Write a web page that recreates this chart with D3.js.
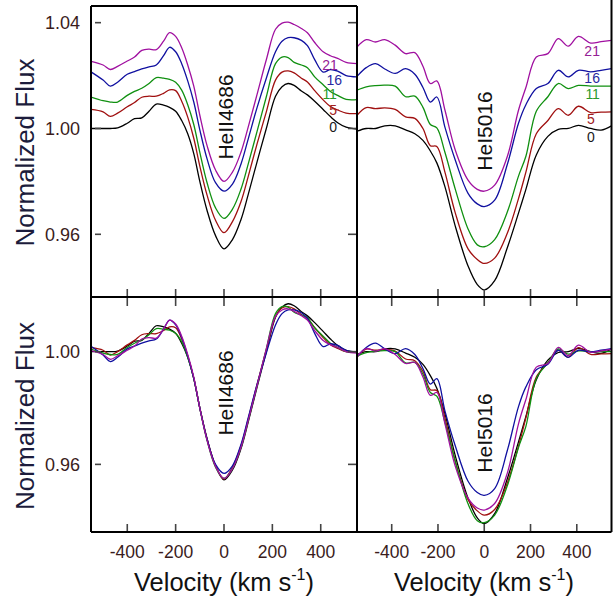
<!DOCTYPE html>
<html><head><meta charset="utf-8">
<script src="https://cdn.jsdelivr.net/npm/d3@7"></script>
<style>
html,body{margin:0;padding:0;background:#fff;}
svg{display:block;font-family:"Liberation Sans",Arial,Helvetica,sans-serif;}
</style></head>
<body><svg id="c" width="614" height="601"></svg>
<script>
// ---------------- DATA ----------------
const xTicks = [-400, -200, 0, 200, 400];
const yTicksTop = [0.96, 1.00, 1.04];
const yTicksBottom = [0.96, 1.00];
const seriesLabels = ["0", "5", "11", "16", "21"];
const lineNames = ["HeII4686", "HeI5016"];

const velHeII = [-550,-500,-470,-440,-400,-370,-340,-310,-280,-250,-225,-200,-175,-150,-125,-100,-70,-35,0,35,70,100,137,175,213,240,265,290,320,345,375,410,440,470,505,550];
const heII_0  = [1.000,1.000,1.000,1.0002,1.002,1.0037,1.004,1.0065,1.0092,1.0088,1.008,1.0065,1.003,0.998,0.9905,0.980,0.969,0.9595,0.9545,0.958,0.9655,0.975,0.9875,1.000,1.0122,1.0158,1.017,1.0163,1.0142,1.0127,1.0103,1.0072,1.0045,1.0022,1.0005,0.9998];
const heII_5  = [1.0014,1.0005,0.9988,1.000,1.0024,1.004,1.006,1.0064,1.0064,1.0075,1.0088,1.0085,1.0045,0.9985,0.9905,0.980,0.969,0.9595,0.9548,0.959,0.9665,0.976,0.9885,1.0005,1.0125,1.0155,1.016,1.0152,1.0132,1.0118,1.0085,1.005,1.0025,1.0012,1.000,0.9998];
const heII_11 = [1.0009,0.9995,0.999,0.999,1.0015,1.003,1.0042,1.006,1.0082,1.008,1.0076,1.0065,1.0035,0.998,0.9905,0.980,0.9685,0.959,0.955,0.9585,0.966,0.9755,0.988,1.001,1.0135,1.016,1.0158,1.014,1.013,1.012,1.0085,1.0055,1.003,1.0015,1.000,0.9999];
const heII_16 = [1.0019,0.9988,0.9965,0.998,1.001,1.002,1.003,1.0038,1.0045,1.008,1.0112,1.0095,1.005,0.9985,0.9905,0.980,0.969,0.960,0.9568,0.9595,0.967,0.9765,0.9885,0.9995,1.0095,1.0135,1.0148,1.0148,1.0138,1.0118,1.0065,1.0018,1.0028,1.0022,1.0005,1.000];
const heII_21 = [1.0004,0.999,0.9973,0.9985,1.0005,1.002,1.0045,1.005,1.0048,1.008,1.0112,1.0098,1.0055,0.999,0.991,0.980,0.9685,0.9593,0.955,0.9585,0.966,0.9755,0.988,1.001,1.0125,1.0148,1.0152,1.0143,1.0128,1.0112,1.0075,1.004,1.0025,1.0015,1.000,0.9995];

const velHeI = [-550,-510,-470,-430,-385,-340,-300,-265,-233,-205,-170,-125,-70,-30,0,45,100,148,180,225,275,320,363,407,460,505,550];
const heI_0  = [0.999,1.000,1.000,1.001,1.001,0.9995,0.998,0.9955,0.9915,0.987,0.978,0.963,0.948,0.941,0.939,0.9425,0.955,0.968,0.977,0.990,0.997,0.9997,1.000,1.0012,1.000,0.9994,1.001];
const heI_5  = [0.998,1.0009,1.0005,1.0008,1.0002,0.9974,0.9968,0.993,0.9865,0.9862,0.9765,0.961,0.9475,0.9435,0.942,0.944,0.9535,0.9665,0.9765,0.991,0.996,1.0005,0.998,1.0014,0.999,0.9992,0.9993];
const heI_11 = [0.9985,0.9997,1.0002,1.0004,1.000,0.996,0.9962,0.992,0.9855,0.9842,0.975,0.961,0.946,0.940,0.9393,0.942,0.9525,0.966,0.9735,0.9905,0.996,1.001,0.9991,1.0003,1.000,1.000,1.000];
const heI_16 = [0.9982,1.0015,1.003,1.001,0.9993,1.0011,0.999,0.994,0.9885,0.9904,0.979,0.9665,0.954,0.950,0.949,0.9514,0.965,0.9805,0.9875,0.9936,0.9955,1.0005,0.998,1.0005,0.9999,1.0005,1.0011];
const heI_21 = [0.9983,1.0011,1.0002,1.0011,0.999,0.9958,0.9962,0.991,0.9845,0.9855,0.9745,0.9593,0.948,0.9445,0.9438,0.9461,0.957,0.9744,0.983,0.9945,0.9958,1.0015,0.9986,1.0023,0.9998,1.0003,1.0008];

// vertical shifts used in the upper (stacked) panels
const offsetsHeII = [0, 0.0058, 0.011, 0.0195, 0.025];
const offsetsHeI  = [0, 0.007, 0.016, 0.0215, 0.0325];

// ---------------- STYLE / LAYOUT ----------------
const colors = ["#000000", "#a01010", "#109010", "#1010a0", "#a010a0"];
const labelColors = ["#1a1a1a", "#a02020", "#2a9a2a", "#2a2aa0", "#952095"];
const tickColor = "#3a1c1c";
const titleColor = "#1c1c3c";

const colX = [[91, 357], [357, 611.5]];
const rowY = [[6, 297], [297, 532]];
const yDomTop = [0.9363, 1.0463];
const yDomBot = [0.936, 1.0194];

const svg = d3.select("#c");
const defs = svg.append("defs");

const xs = colX.map(r => d3.scaleLinear().domain([-550, 550]).range(r));
const ysTop = d3.scaleLinear().domain(yDomTop).range([rowY[0][1], rowY[0][0]]);
const ysBot = d3.scaleLinear().domain(yDomBot).range([rowY[1][1], rowY[1][0]]);

const datasets = [
  {vel: velHeII, series: [heII_0, heII_5, heII_11, heII_16, heII_21], off: offsetsHeII},
  {vel: velHeI,  series: [heI_0, heI_5, heI_11, heI_16, heI_21], off: offsetsHeI}
];

// label placement (data coordinates) in the stacked panels
const labelPos = [
  [[467, 0.9988], [467, 1.0051], [467, 1.0110], [488, 1.0164], [471, 1.0221]],
  [[478, 0.9949], [478, 1.0017], [500, 1.0111], [500, 1.0172], [500, 1.0274]]
];

// panels
[0, 1].forEach(row => {
  [0, 1].forEach(col => {
    const x = xs[col];
    const y = row === 0 ? ysTop : ysBot;
    const id = `clip${row}${col}`;
    defs.append("clipPath").attr("id", id).append("rect")
      .attr("x", colX[col][0]).attr("y", rowY[row][0])
      .attr("width", colX[col][1] - colX[col][0]).attr("height", rowY[row][1] - rowY[row][0]);
    const g = svg.append("g").attr("clip-path", `url(#${id})`);
    const ds = datasets[col];
    ds.series.forEach((s, i) => {
      const shift = row === 0 ? ds.off[i] : 0;
      const pts = ds.vel.map((v, k) => [v, s[k] + shift]);
      const line = d3.line().x(d => x(d[0])).y(d => y(d[1])).curve(d3.curveCatmullRom.alpha(0.5));
      g.append("path").attr("d", line(pts)).attr("fill", "none")
        .attr("stroke", colors[i]).attr("stroke-width", 1.3);
    });
    // line name, rotated
    const cy = row === 0 ? (col === 0 ? 117 : 131) : (col === 0 ? 393 : 433);
    const bx = col === 0 ? 232.5 : 491.5;
    svg.append("text").attr("transform", `translate(${bx},${cy}) rotate(-90)`)
      .attr("text-anchor", "middle").attr("font-size", 21).attr("fill", "#111")
      .text(lineNames[col]);
    if (row === 0) {
      seriesLabels.forEach((t, i) => {
        svg.append("text").attr("x", x(labelPos[col][i][0])).attr("y", y(labelPos[col][i][1]))
          .attr("text-anchor", "end").attr("font-size", 14).attr("fill", labelColors[i]).text(t);
      });
    }
  });
});

// ticks
const tk = svg.append("g").attr("stroke", "#444").attr("stroke-width", 1.6);
[0, 1].forEach(row => {
  const y = row === 0 ? ysTop : ysBot;
  const ticks = row === 0 ? yTicksTop : yTicksBottom;
  ticks.forEach(t => {
    tk.append("line").attr("x1", 95).attr("x2", 101).attr("y1", y(t)).attr("y2", y(t));
    tk.append("line").attr("x1", 348).attr("x2", 357).attr("y1", y(t)).attr("y2", y(t));
  });
  [0, 1].forEach(col => {
    xTicks.forEach(t => {
      const xx = xs[col](t);
      if (row === 0) {
        tk.append("line").attr("x1", xx).attr("x2", xx).attr("y1", 297).attr("y2", 289);
      } else {
        tk.append("line").attr("x1", xx).attr("x2", xx).attr("y1", 297).attr("y2", 306);
        tk.append("line").attr("x1", xx).attr("x2", xx).attr("y1", 532).attr("y2", 524);
      }
    });
  });
});

// tick labels
[0, 1].forEach(row => {
  const y = row === 0 ? ysTop : ysBot;
  const ticks = row === 0 ? yTicksTop : yTicksBottom;
  ticks.forEach(t => {
    svg.append("text").attr("x", 80).attr("y", y(t)).attr("dy", "0.35em")
      .attr("text-anchor", "end").attr("font-size", 18).attr("fill", tickColor)
      .text(d3.format(".2f")(t));
  });
});
[0, 1].forEach(col => {
  xTicks.forEach(t => {
    svg.append("text").attr("x", xs[col](t)).attr("y", 558)
      .attr("text-anchor", "middle").attr("font-size", 17.5).attr("fill", tickColor)
      .text(t);
  });
});

// frame
const fr = svg.append("g").attr("stroke", "#000").attr("stroke-width", 2).attr("fill", "none");
fr.append("line").attr("x1", 91).attr("x2", 357).attr("y1", 6).attr("y2", 6);
fr.append("line").attr("x1", 91).attr("x2", 91).attr("y1", 6).attr("y2", 532);
fr.append("line").attr("x1", 357).attr("x2", 357).attr("y1", 6).attr("y2", 532);
fr.append("line").attr("x1", 611.5).attr("x2", 611.5).attr("y1", 0).attr("y2", 532);
fr.append("line").attr("x1", 91).attr("x2", 611.5).attr("y1", 297).attr("y2", 297);
fr.append("line").attr("x1", 91).attr("x2", 611.5).attr("y1", 532).attr("y2", 532);

// axis titles
[[152.5], [416]].forEach(([cy]) => {
  svg.append("text").attr("transform", `translate(34,${cy}) rotate(-90)`)
    .attr("text-anchor", "middle").attr("font-size", 26).attr("fill", titleColor)
    .text("Normalized Flux");
});
[224, 484].forEach(cx => {
  const t = svg.append("text").attr("x", cx).attr("y", 591).attr("text-anchor", "middle")
    .attr("font-size", 25.5).attr("fill", "#111");
  t.append("tspan").text("Velocity (km s");
  t.append("tspan").attr("font-size", 16).attr("dy", -11).text("-1");
  t.append("tspan").attr("dy", 11).text(")");
});
</script></body></html>
